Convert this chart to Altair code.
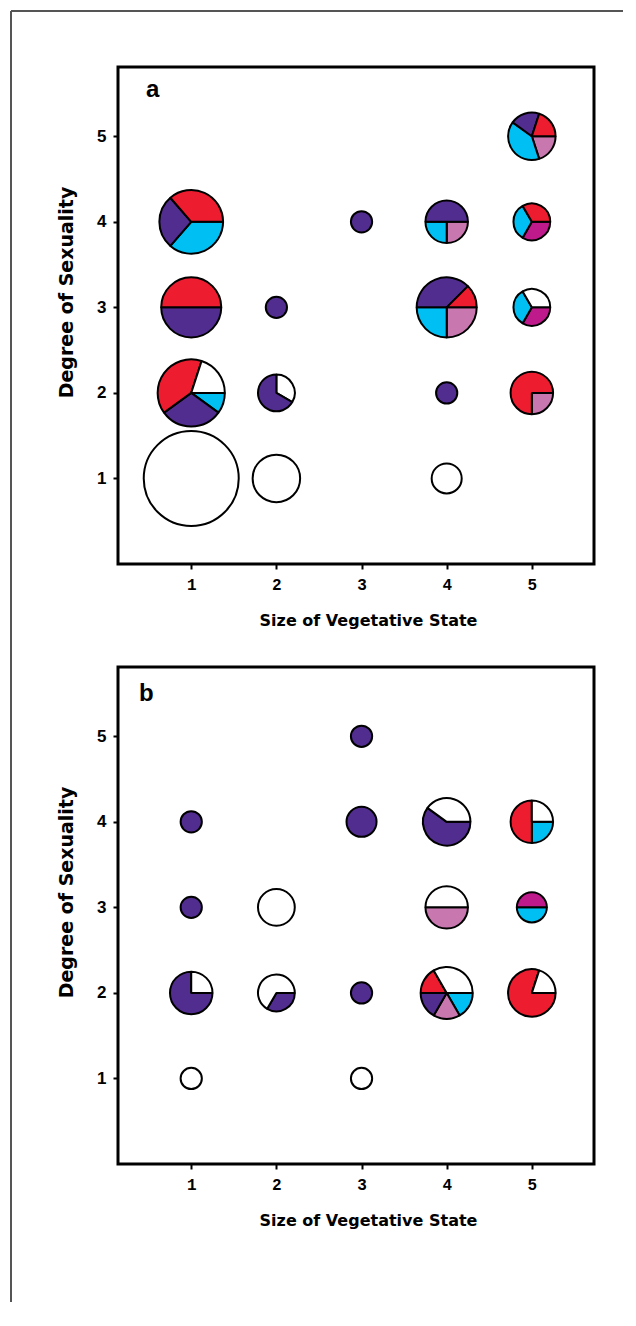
import math
import altair as alt
import pandas as pd

# ---------------- data ----------------
CATEGORIES = ["purple", "red", "cyan", "pink", "magenta", "white"]
COLORS = ["#512D90", "#ED1C2E", "#00BFF3", "#C977AF", "#BF1A8C", "#FFFFFF"]

X_TICKS = [1, 2, 3, 4, 5]
Y_TICKS = [1, 2, 3, 4, 5]

# Panel a: grid cell (size of vegetative state, degree of sexuality),
# number of species (pie size), start angle (deg, clockwise from 12 o'clock), slices
A_VEG = [5, 1, 3, 4, 5, 1, 2, 4, 5, 1, 2, 4, 5, 1, 2, 4]
A_SEX = [5, 4, 4, 4, 4, 3, 3, 3, 3, 2, 2, 2, 2, 1, 1, 1]
A_N = [5, 9, 1, 4, 3, 8, 1, 8, 3, 10, 3, 1, 4, 20, 5, 2]
A_START = [90, 90, 90, 90, 90, 90, 90, 90, 90, 90, 0, 90, 90, 90, 90, 90]
A_SLICES = [
    [("pink", 1), ("cyan", 2), ("purple", 1), ("red", 1)],
    [("cyan", 4), ("purple", 3), ("red", 4)],
    [("purple", 1)],
    [("pink", 1), ("cyan", 1), ("purple", 2)],
    [("magenta", 1), ("cyan", 1), ("red", 1)],
    [("purple", 1), ("red", 1)],
    [("purple", 1)],
    [("pink", 2), ("cyan", 2), ("purple", 3), ("red", 1)],
    [("magenta", 1), ("cyan", 1), ("white", 1)],
    [("cyan", 1), ("purple", 3), ("red", 4), ("white", 2)],
    [("white", 1), ("purple", 2)],
    [("purple", 1)],
    [("pink", 1), ("red", 3)],
    [("white", 1)],
    [("white", 1)],
    [("white", 1)],
]

# Panel b
B_VEG = [3, 1, 3, 4, 5, 1, 2, 4, 5, 1, 2, 3, 4, 5, 1, 3]
B_SEX = [5, 4, 4, 4, 4, 3, 3, 3, 3, 2, 2, 2, 2, 2, 1, 1]
B_N = [1, 1, 2, 5, 4, 1, 3, 4, 2, 4, 3, 1, 6, 5, 1, 1]
B_START = [90] * 16
B_SLICES = [
    [("purple", 1)],
    [("purple", 1)],
    [("purple", 1)],
    [("purple", 3), ("white", 2)],
    [("cyan", 1), ("red", 2), ("white", 1)],
    [("purple", 1)],
    [("white", 1)],
    [("pink", 2), ("white", 2)],
    [("cyan", 1), ("magenta", 1)],
    [("purple", 3), ("white", 1)],
    [("purple", 1), ("white", 2)],
    [("purple", 1)],
    [("cyan", 1), ("pink", 1), ("purple", 1), ("red", 1), ("white", 2)],
    [("red", 4), ("white", 1)],
    [("white", 1)],
    [("white", 1)],
]


def build(veg, sex, n, start, slices):
    rows = []
    for i in range(len(veg)):
        total = sum(w for _, w in slices[i])
        acc = 0
        for cat, w in slices[i]:
            a0 = math.radians(start[i] + 360.0 * acc / total)
            acc += w
            a1 = math.radians(start[i] + 360.0 * acc / total)
            rows.append(dict(veg=veg[i], sex=sex[i], n=n[i], cat=cat, t0=a0, t1=a1))
    return pd.DataFrame(rows)


df_a = build(A_VEG, A_SEX, A_N, A_START, A_SLICES)
df_b = build(B_VEG, B_SEX, B_N, B_START, B_SLICES)

W, H = 476, 497


def panel(df, letter, lx, ly, frame=False):
    pies = alt.Chart(df).mark_arc(stroke="black", strokeWidth=2, strokeJoin="bevel").encode(
        x=alt.X("veg:Q",
                scale=alt.Scale(domain=[0.14, 5.73], nice=False, zero=False),
                axis=alt.Axis(values=X_TICKS, format="d", title="Size of Vegetative State",
                              labelFont="Liberation Mono", labelFontSize=16,
                              labelFontWeight="bold", labelPadding=7,
                              titleX=250, titleY=48)),
        y=alt.Y("sex:Q",
                scale=alt.Scale(domain=[0.0, 5.81], nice=False, zero=False),
                axis=alt.Axis(values=Y_TICKS, format="d", title="Degree of Sexuality",
                              labelFont="Liberation Sans", labelFontSize=17,
                              labelFontWeight="bold", labelPadding=7,
                              titleX=-42, titleY=225, titleFontSize=19)),
        theta=alt.Theta("t0:Q", scale=None, stack=None),
        theta2="t1:Q",
        radius=alt.Radius("n:Q", scale=alt.Scale(type="sqrt", domain=[0, 20], range=[0, 47.5])),
        color=alt.Color("cat:N", scale=alt.Scale(domain=CATEGORIES, range=COLORS), legend=None),
    )
    lab = alt.Chart(pd.DataFrame({"label": [letter]})).mark_text(
        font="Liberation Sans", fontSize=24, fontWeight="bold", align="left",
        baseline="alphabetic", color="black"
    ).encode(text="label:N", x=alt.value(lx), y=alt.value(ly))
    layers = [pies, lab]
    if frame:
        fr = pd.DataFrame({"k": [0]})
        vline = alt.Chart(fr).mark_rule(color="#555555", strokeWidth=2).encode(
            x=alt.value(-107), y=alt.value(-56), y2=alt.value(1235))
        hline = alt.Chart(fr).mark_rule(color="#555555", strokeWidth=2).encode(
            x=alt.value(-107), x2=alt.value(505), y=alt.value(-56))
        layers += [vline, hline]
    return alt.layer(*layers).properties(width=W, height=H)


pa = panel(df_a, "a", 28, 30, frame=True)
pb = panel(df_b, "b", 21, 34)

chart = alt.vconcat(pa, pb, spacing=103, bounds="flush").properties(
    padding=0
).configure_view(
    stroke="black", strokeWidth=3
).configure_axis(
    domain=False, grid=False, tickColor="black", tickWidth=2, tickSize=5,
    labelColor="black", titleColor="black", titleFont="DejaVu Sans",
    titleFontWeight="bold", titleFontSize=16
)

chart.save("out.html", embed_options={"renderer": "svg", "actions": False})
